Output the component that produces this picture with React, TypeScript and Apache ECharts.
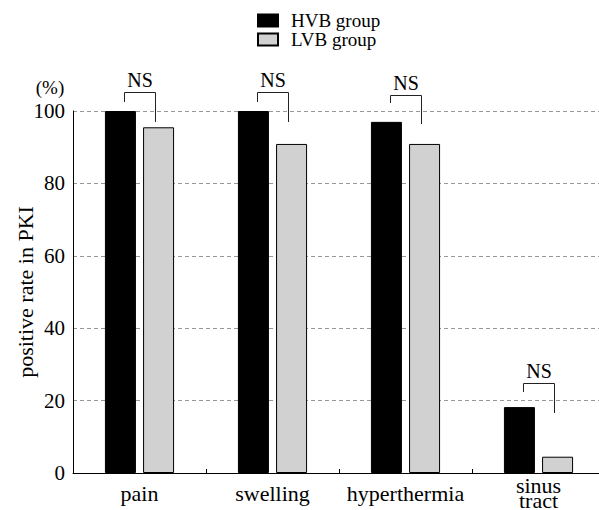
import React, { useEffect, useRef } from "react";
import * as echarts from "echarts";

const categories = ["pain", "swelling", "hyperthermia", "sinus\ntract"];
const seriesNames = ["HVB group", "LVB group"];
const hvbValues = [100, 100, 97.0, 18.2];
const lvbValues = [95.5, 90.9, 90.9, 4.5];
const yMin = 0;
const yMax = 100;
const yInterval = 20;
const nsLabels = ["NS", "NS", "NS", "NS"];
const bracketTop = [105.2, 105.2, 104.5, 25.0];
const bracketLeftEnd = [102.6, 102.6, 102.1, 22.4];
const bracketRightEnd = [96.9, 96.9, 96.3, 16.6];
const yAxisName = "positive rate in PKI";
const unitLabel = "(%)";

const FONT = "Liberation Serif";

export default function App() {
  const ref = useRef<HTMLDivElement>(null);
  useEffect(() => {
    if (!ref.current) return;
    const chart = echarts.init(ref.current, undefined, { renderer: "svg" });
    const bracketData = categories.map((_, i) => [i, bracketTop[i], bracketLeftEnd[i], bracketRightEnd[i]]);
    chart.setOption({
      animation: false,
      backgroundColor: "#ffffff",
      textStyle: { fontFamily: FONT, color: "#000" },
      legend: {
        data: seriesNames,
        orient: "vertical",
        left: 252,
        top: 6,
        itemWidth: 20,
        itemHeight: 12,
        itemGap: 0,
        icon: "rect",
        textStyle: { fontFamily: FONT, fontSize: 19, color: "#000", lineHeight: 19, padding: [0, 0, 0, 8] },
      },
      grid: { left: 73, right: -6, top: 111, bottom: 37, containLabel: false, outerBoundsMode: "none" },
      xAxis: {
        type: "category",
        data: categories,
        axisLine: { show: true, lineStyle: { color: "#000", width: 1 } },
        axisTick: { show: true, inside: true, length: 4, lineStyle: { color: "#000" } },
        axisLabel: {
          interval: 0,
          fontFamily: FONT,
          fontSize: 22,
          color: "#000",
          lineHeight: 15,
          verticalAlign: "middle",
          margin: 20,
        },
        splitLine: { show: false },
      },
      yAxis: {
        type: "value",
        min: yMin,
        max: yMax,
        interval: yInterval,
        name: yAxisName,
        nameLocation: "middle",
        nameGap: 37,
        nameMoveOverlap: false,
        nameTextStyle: { fontFamily: FONT, fontSize: 22, color: "#000" },
        axisLine: { show: true, lineStyle: { color: "#000", width: 1 } },
        axisTick: { show: false },
        axisLabel: { fontFamily: FONT, fontSize: 21, color: "#000", margin: 8 },
        splitLine: { show: true, lineStyle: { color: "#999", type: [4, 3], width: 1 } },
      },
      graphic: [
        {
          type: "text",
          x: 50,
          y: 87,
          style: { text: unitLabel, fontFamily: FONT, fontSize: 19, fill: "#000", textAlign: "center", textVerticalAlign: "middle" },
        },
      ],
      series: [
        {
          name: seriesNames[0],
          type: "bar",
          data: hvbValues,
          barWidth: 31,
          barGap: "23%",
          itemStyle: { color: "#000000", borderColor: "#000000", borderWidth: 1 },
        },
        {
          name: seriesNames[1],
          type: "bar",
          data: lvbValues,
          barWidth: 31,
          barGap: "23%",
          itemStyle: { color: "#d0d1d0", borderColor: "#000000", borderWidth: 1 },
        },
        {
          name: "brackets",
          type: "custom",
          data: bracketData,
          encode: { x: 0, y: 1 },
          clip: false,
          z: 10,
          renderItem: (params: any, api: any) => {
            const i = api.value(0);
            const pTop = api.coord([i, api.value(1)]);
            const yL = Math.round(api.coord([i, api.value(2)])[1]);
            const yR = Math.round(api.coord([i, api.value(3)])[1]);
            const cx = pTop[0];
            const yT = Math.round(pTop[1]) + 0.5;
            const xl = Math.round(cx - 16) + 0.5;
            const xr = Math.round(cx + 15) + 0.5;
            return {
              type: "group",
              children: [
                {
                  type: "polyline",
                  shape: { points: [[xl, yL], [xl, yT], [xr, yT], [xr, yR]] },
                  style: { stroke: "#222", lineWidth: 1, fill: "none" },
                },
                {
                  type: "text",
                  x: (xl + xr) / 2,
                  y: yT - 13,
                  style: {
                    text: nsLabels[params.dataIndex],
                    fontFamily: FONT,
                    fontSize: 20,
                    fill: "#000",
                    textAlign: "center",
                    textVerticalAlign: "middle",
                  },
                },
              ],
            };
          },
        },
      ],
    });
    return () => chart.dispose();
  }, []);
  return <div ref={ref} style={{ width: 599, height: 510, position: "absolute", left: 0, top: 0 }} />;
}
